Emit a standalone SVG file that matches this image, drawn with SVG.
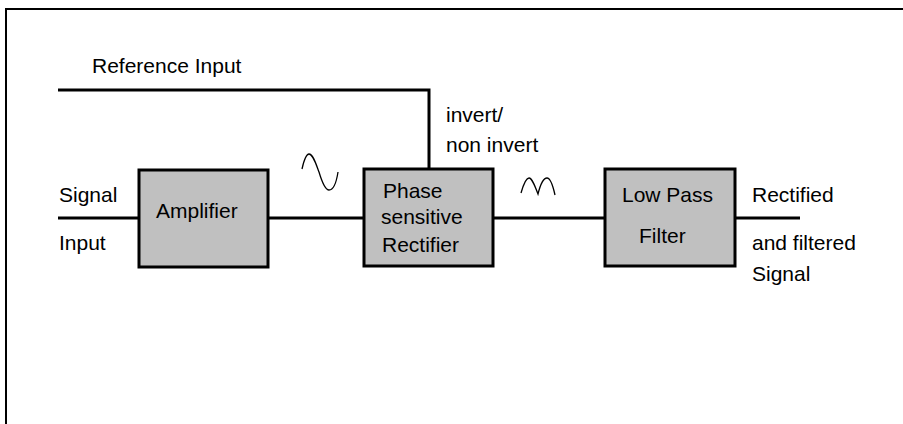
<svg xmlns="http://www.w3.org/2000/svg" width="903" height="424" viewBox="0 0 903 424">
<style>
text{font-family:"Liberation Sans",Arial,sans-serif;font-size:21px;fill:#000}
.box{fill:#c0c0c0;stroke:#000;stroke-width:3}
.wire{fill:none;stroke:#000;stroke-width:3}
.wave{fill:none;stroke:#000;stroke-width:1.3}
</style>
<rect width="903" height="424" fill="#fff"/>
<path d="M6,424 V9 H903" fill="none" stroke="#000" stroke-width="2"/>
<g id="connectors">
<path class="wire" d="M58,218 H139"/>
<path class="wire" d="M268,218 H364"/>
<path class="wire" d="M58,90 H429 V169"/>
<path class="wire" d="M493,218 H605"/>
<path class="wire" d="M735,218 H800"/>
</g>
<g id="amplifier">
<rect class="box" x="139" y="170" width="129" height="97"/>
<text x="156" y="218">Amplifier</text>
</g>
<g id="rectifier">
<rect class="box" x="364" y="169" width="129" height="97"/>
<text x="383" y="198">Phase</text>
<text x="381" y="224">sensitive</text>
<text x="382" y="252">Rectifier</text>
</g>
<g id="lowpass">
<rect class="box" x="605" y="169" width="130" height="97"/>
<text x="622" y="202">Low Pass</text>
<text x="639" y="243">Filter</text>
</g>
<g id="labels">
<text x="92" y="73">Reference Input</text>
<text x="59" y="202">Signal</text>
<text x="59" y="250">Input</text>
<text x="446" y="122">invert/</text>
<text x="446" y="152">non invert</text>
<text x="752" y="202">Rectified</text>
<text x="752" y="250">and filtered</text>
<text x="752" y="281">Signal</text>
</g>
<g id="waves">
<path class="wave" d="M302,169 C304,160 306,154 309,154 C313,154 316,164 319,172 C322,182 325,190 329,190 C333,190 336,185 338,172"/>
<path class="wave" d="M521,193 C523,186 526,178 529,178 C532,178 535,186 538,194 C540,186 543,178 547,178 C550,178 553,186 555,195"/>
</g>
</svg>
